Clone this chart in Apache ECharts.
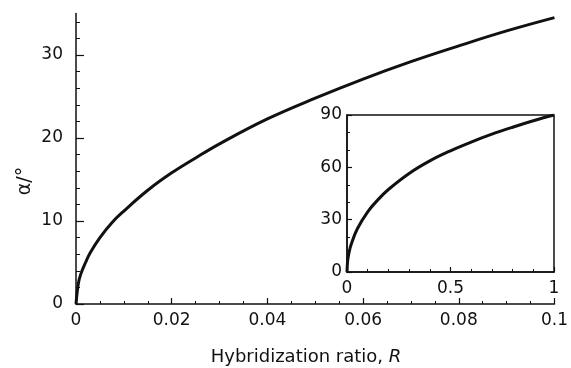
<!DOCTYPE html>
<html>
<head>
<meta charset="utf-8">
<script src="https://cdn.jsdelivr.net/npm/echarts@6/dist/echarts.min.js"></script>
<style>html,body{margin:0;padding:0;background:#fff}#c{width:571px;height:368px}</style>
</head>
<body>
<div id="c"></div>
<script>
// Main plot: hybridization ratio R vs angle alpha (deg)
const mainR     = [0, 0.0005, 0.001, 0.002, 0.003, 0.005, 0.0075, 0.01, 0.015, 0.02, 0.025, 0.03, 0.04, 0.05, 0.06, 0.07, 0.08, 0.09, 0.1];
const mainAlpha = [0, 2.5,    3.6,   5.0,   6.2,   8.0,   9.8,    11.2, 13.7,  15.8, 17.6,  19.3, 22.3, 24.8, 27.1, 29.2, 31.1, 32.9, 34.5];
// Inset: full range R 0..1
const insetR     = [0, 0.002, 0.005, 0.01, 0.02, 0.05, 0.1,  0.15, 0.2,  0.3,  0.4,  0.5,  0.6,  0.7, 0.8, 0.9,  1];
const insetAlpha = [0, 5.0,   8.0,   11.2, 15.8, 24.8, 34.5, 41.5, 47.3, 56.5, 63.7, 69.5, 74.5, 79,  83,  86.7, 90];
// Tick labels
const mainYMajor = [0, 10, 20, 30];
const mainYMinor = [2, 4, 6, 8, 12, 14, 16, 18, 22, 24, 26, 28, 32, 34];
const xTitle = 'Hybridization ratio, ';
const xTitleVar = 'R';
const yTitle = 'α/°';

const FONT = 'DejaVu Sans';
const INK = '#111';
const chart = echarts.init(document.getElementById('c'), null, {renderer: 'canvas'});
const lbl = {fontFamily: FONT, fontSize: 17, color: INK};

chart.setOption({
  animation: false,
  backgroundColor: '#fff',
  grid: [
    {left: 76, right: 6, top: 13.5, bottom: 64, containLabel: false},
    {left: 347, right: 17, top: 115, bottom: 96, containLabel: false, show: true,
     backgroundColor: '#fff', borderColor: INK, borderWidth: 1.5, z: 5}
  ],
  xAxis: [
    {gridIndex: 0, type: 'value', min: 0, max: 0.1, interval: 0.02,
     axisLine: {show: true, onZero: false, lineStyle: {color: INK, width: 1.5}},
     axisTick: {show: true, inside: true, length: 6, lineStyle: {color: INK, width: 1.2}},
     minorTick: {show: true, splitNumber: 4, length: 3, lineStyle: {color: INK, width: 1}},
     splitLine: {show: false}, minorSplitLine: {show: false},
     axisLabel: Object.assign({margin: 8}, lbl)},
    {gridIndex: 1, type: 'value', min: 0, max: 1, interval: 0.5, z: 6,
     axisLine: {show: true, onZero: false, lineStyle: {color: INK, width: 1.5}},
     axisTick: {show: true, inside: true, length: 5, lineStyle: {color: INK, width: 1.2}},
     minorTick: {show: true, splitNumber: 5, length: 3, lineStyle: {color: INK, width: 1}},
     splitLine: {show: false},
     axisLabel: Object.assign({margin: 8}, lbl)}
  ],
  yAxis: [
    {gridIndex: 0, type: 'value', min: 0, max: 35, position: 'left',
     axisLine: {show: true, onZero: false, lineStyle: {color: INK, width: 1.5}},
     axisTick: {show: true, inside: true, length: 8, customValues: mainYMajor, lineStyle: {color: INK, width: 1.2}},
     splitLine: {show: false},
     axisLabel: Object.assign({margin: 13, customValues: mainYMajor}, lbl)},
    {gridIndex: 0, type: 'value', min: 0, max: 35, position: 'left',
     axisLine: {show: false},
     axisTick: {show: true, inside: true, length: 4, customValues: mainYMinor, lineStyle: {color: INK, width: 1}},
     splitLine: {show: false},
     axisLabel: {show: false}},
    {gridIndex: 1, type: 'value', min: 0, max: 90, interval: 30, z: 6,
     axisLine: {show: true, onZero: false, lineStyle: {color: INK, width: 1.5}},
     axisTick: {show: true, inside: true, length: 5, lineStyle: {color: INK, width: 1.2}},
     minorTick: {show: true, splitNumber: 3, length: 3, lineStyle: {color: INK, width: 1}},
     splitLine: {show: false},
     axisLabel: Object.assign({margin: 5}, lbl)}
  ],
  series: [
    {type: 'line', xAxisIndex: 0, yAxisIndex: 0, showSymbol: false, smooth: 0.4,
     data: mainR.map((r, i) => [r, mainAlpha[i]]),
     lineStyle: {color: INK, width: 3}, z: 3},
    {type: 'line', xAxisIndex: 1, yAxisIndex: 2, showSymbol: false, smooth: 0.4,
     data: insetR.map((r, i) => [r, insetAlpha[i]]),
     lineStyle: {color: INK, width: 3}, z: 7}
  ],
  graphic: [
    {type: 'text', x: 306, y: 357, z: 10,
     style: {text: '{a|' + xTitle + '}{b|' + xTitleVar + '}', align: 'center', verticalAlign: 'middle',
       rich: {a: {fontFamily: FONT, fontSize: 18, fill: INK}, b: {fontFamily: FONT, fontSize: 18, fontStyle: 'italic', fill: INK}}}},
    {type: 'text', x: 25, y: 181, rotation: Math.PI / 2, z: 10,
     style: {text: yTitle, fontFamily: FONT, fontSize: 19, fill: INK, align: 'center', verticalAlign: 'middle'}}
  ]
});
</script>
</body>
</html>
